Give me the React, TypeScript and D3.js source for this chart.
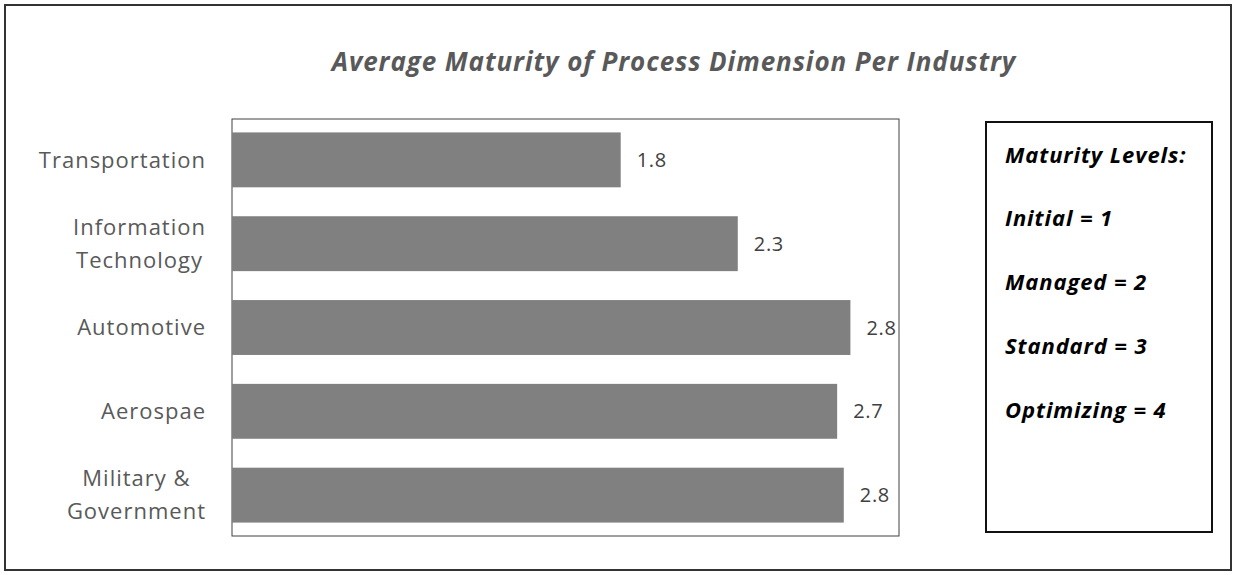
import React, { useEffect, useRef } from "react";
import * as d3 from "d3";

const categories = [
  "Transportation",
  "Information\nTechnology",
  "Automotive",
  "Aerospae",
  "Military &\nGovernment",
];
const maturity = [1.76, 2.29, 2.8, 2.74, 2.77];
const legendLines = [
  "Maturity Levels:",
  "Initial = 1",
  "Managed = 2",
  "Standard = 3",
  "Optimizing = 4",
];
const title = "Average Maturity of Process Dimension Per Industry";

const W = 1236;
const H = 575;
const FONT = "'Open Sans', 'Noto Sans', sans-serif";

export default function App() {
  const ref = useRef<SVGSVGElement | null>(null);

  useEffect(() => {
    const svg = d3.select(ref.current);
    svg.selectAll("*").remove();

    svg.append("rect").attr("width", W).attr("height", H).attr("fill", "#fff");

    // outer chart border
    svg
      .append("rect")
      .attr("x", 5)
      .attr("y", 5)
      .attr("width", 1226)
      .attr("height", 565)
      .attr("fill", "none")
      .attr("stroke", "#333")
      .attr("stroke-width", 2);

    svg
      .append("text")
      .attr("x", 674)
      .attr("y", 71)
      .attr("text-anchor", "middle")
      .attr("font-family", FONT)
      .attr("font-size", 26)
      .attr("letter-spacing", 0.9)
      .attr("font-weight", 700)
      .attr("font-style", "italic")
      .attr("fill", "#595959")
      .text(title);

    const plot = { left: 232, right: 899, top: 119, bottom: 536 };

    const x = d3.scaleLinear().domain([0, 3.02]).range([plot.left, plot.right]);
    const y = d3
      .scaleBand<string>()
      .domain(categories)
      .range([plot.top, plot.bottom])
      .paddingInner(0.345)
      .paddingOuter(0.16);

    svg
      .append("rect")
      .attr("x", plot.left)
      .attr("y", plot.top)
      .attr("width", plot.right - plot.left)
      .attr("height", plot.bottom - plot.top)
      .attr("fill", "none")
      .attr("stroke", "#404040")
      .attr("stroke-width", 1);

    svg
      .append("g")
      .selectAll("rect")
      .data(categories)
      .join("rect")
      .attr("x", x(0))
      .attr("y", (d) => y(d)!)
      .attr("width", (_, i) => x(maturity[i]) - x(0))
      .attr("height", y.bandwidth())
      .attr("fill", "#808080");

    const fmt = d3.format(".1f");
    svg
      .append("g")
      .selectAll("text")
      .data(categories)
      .join("text")
      .attr("x", (_, i) => x(maturity[i]) + 16)
      .attr("y", (d) => y(d)! + y.bandwidth() / 2)
      .attr("dy", "0.35em")
      .attr("font-family", FONT)
      .attr("font-size", 20)
      .attr("letter-spacing", 0.7)
      .attr("fill", "#404040")
      .text((_, i) => fmt(maturity[i]));

    // category labels: multi-line labels are centred as a block, right edge at axis gap
    const labelRight = 206;
    const lineH = 33;
    const cat = svg.append("g");
    categories.forEach((c) => {
      const lines = c.split("\n");
      const cy = y(c)! + y.bandwidth() / 2;
      const t = cat
        .append("text")
        .attr("font-family", FONT)
        .attr("font-size", 22)
        .attr("letter-spacing", 1)
        .attr("fill", "#595959")
        .attr("text-anchor", "middle");
      lines.forEach((ln, j) => {
        t.append("tspan")
          .attr("x", 0)
          .attr("y", cy + (j - (lines.length - 1) / 2) * lineH)
          .attr("dy", "0.35em")
          .text(ln);
      });
      const w = (t.node() as SVGTextElement).getBBox().width;
      t.selectAll("tspan").attr("x", labelRight - w / 2);
    });

    // legend box
    svg
      .append("rect")
      .attr("x", 986)
      .attr("y", 122)
      .attr("width", 226)
      .attr("height", 410)
      .attr("fill", "#fff")
      .attr("stroke", "#111")
      .attr("stroke-width", 2);

    const legendY = d3.scalePoint<number>().domain(d3.range(legendLines.length)).range([155, 410]);
    svg
      .append("g")
      .selectAll("text")
      .data(legendLines)
      .join("text")
      .attr("x", 1005)
      .attr("y", (_, i) => legendY(i)!)
      .attr("dy", "0.35em")
      .attr("font-family", FONT)
      .attr("font-size", 22)
      .attr("letter-spacing", 0.9)
      .attr("font-weight", 700)
      .attr("font-style", "italic")
      .attr("fill", "#000")
      .text((d) => d);
  }, []);

  return (
    <svg
      ref={ref}
      width={W}
      height={H}
      style={{ position: "absolute", left: 0, top: 0, display: "block" }}
    />
  );
}
